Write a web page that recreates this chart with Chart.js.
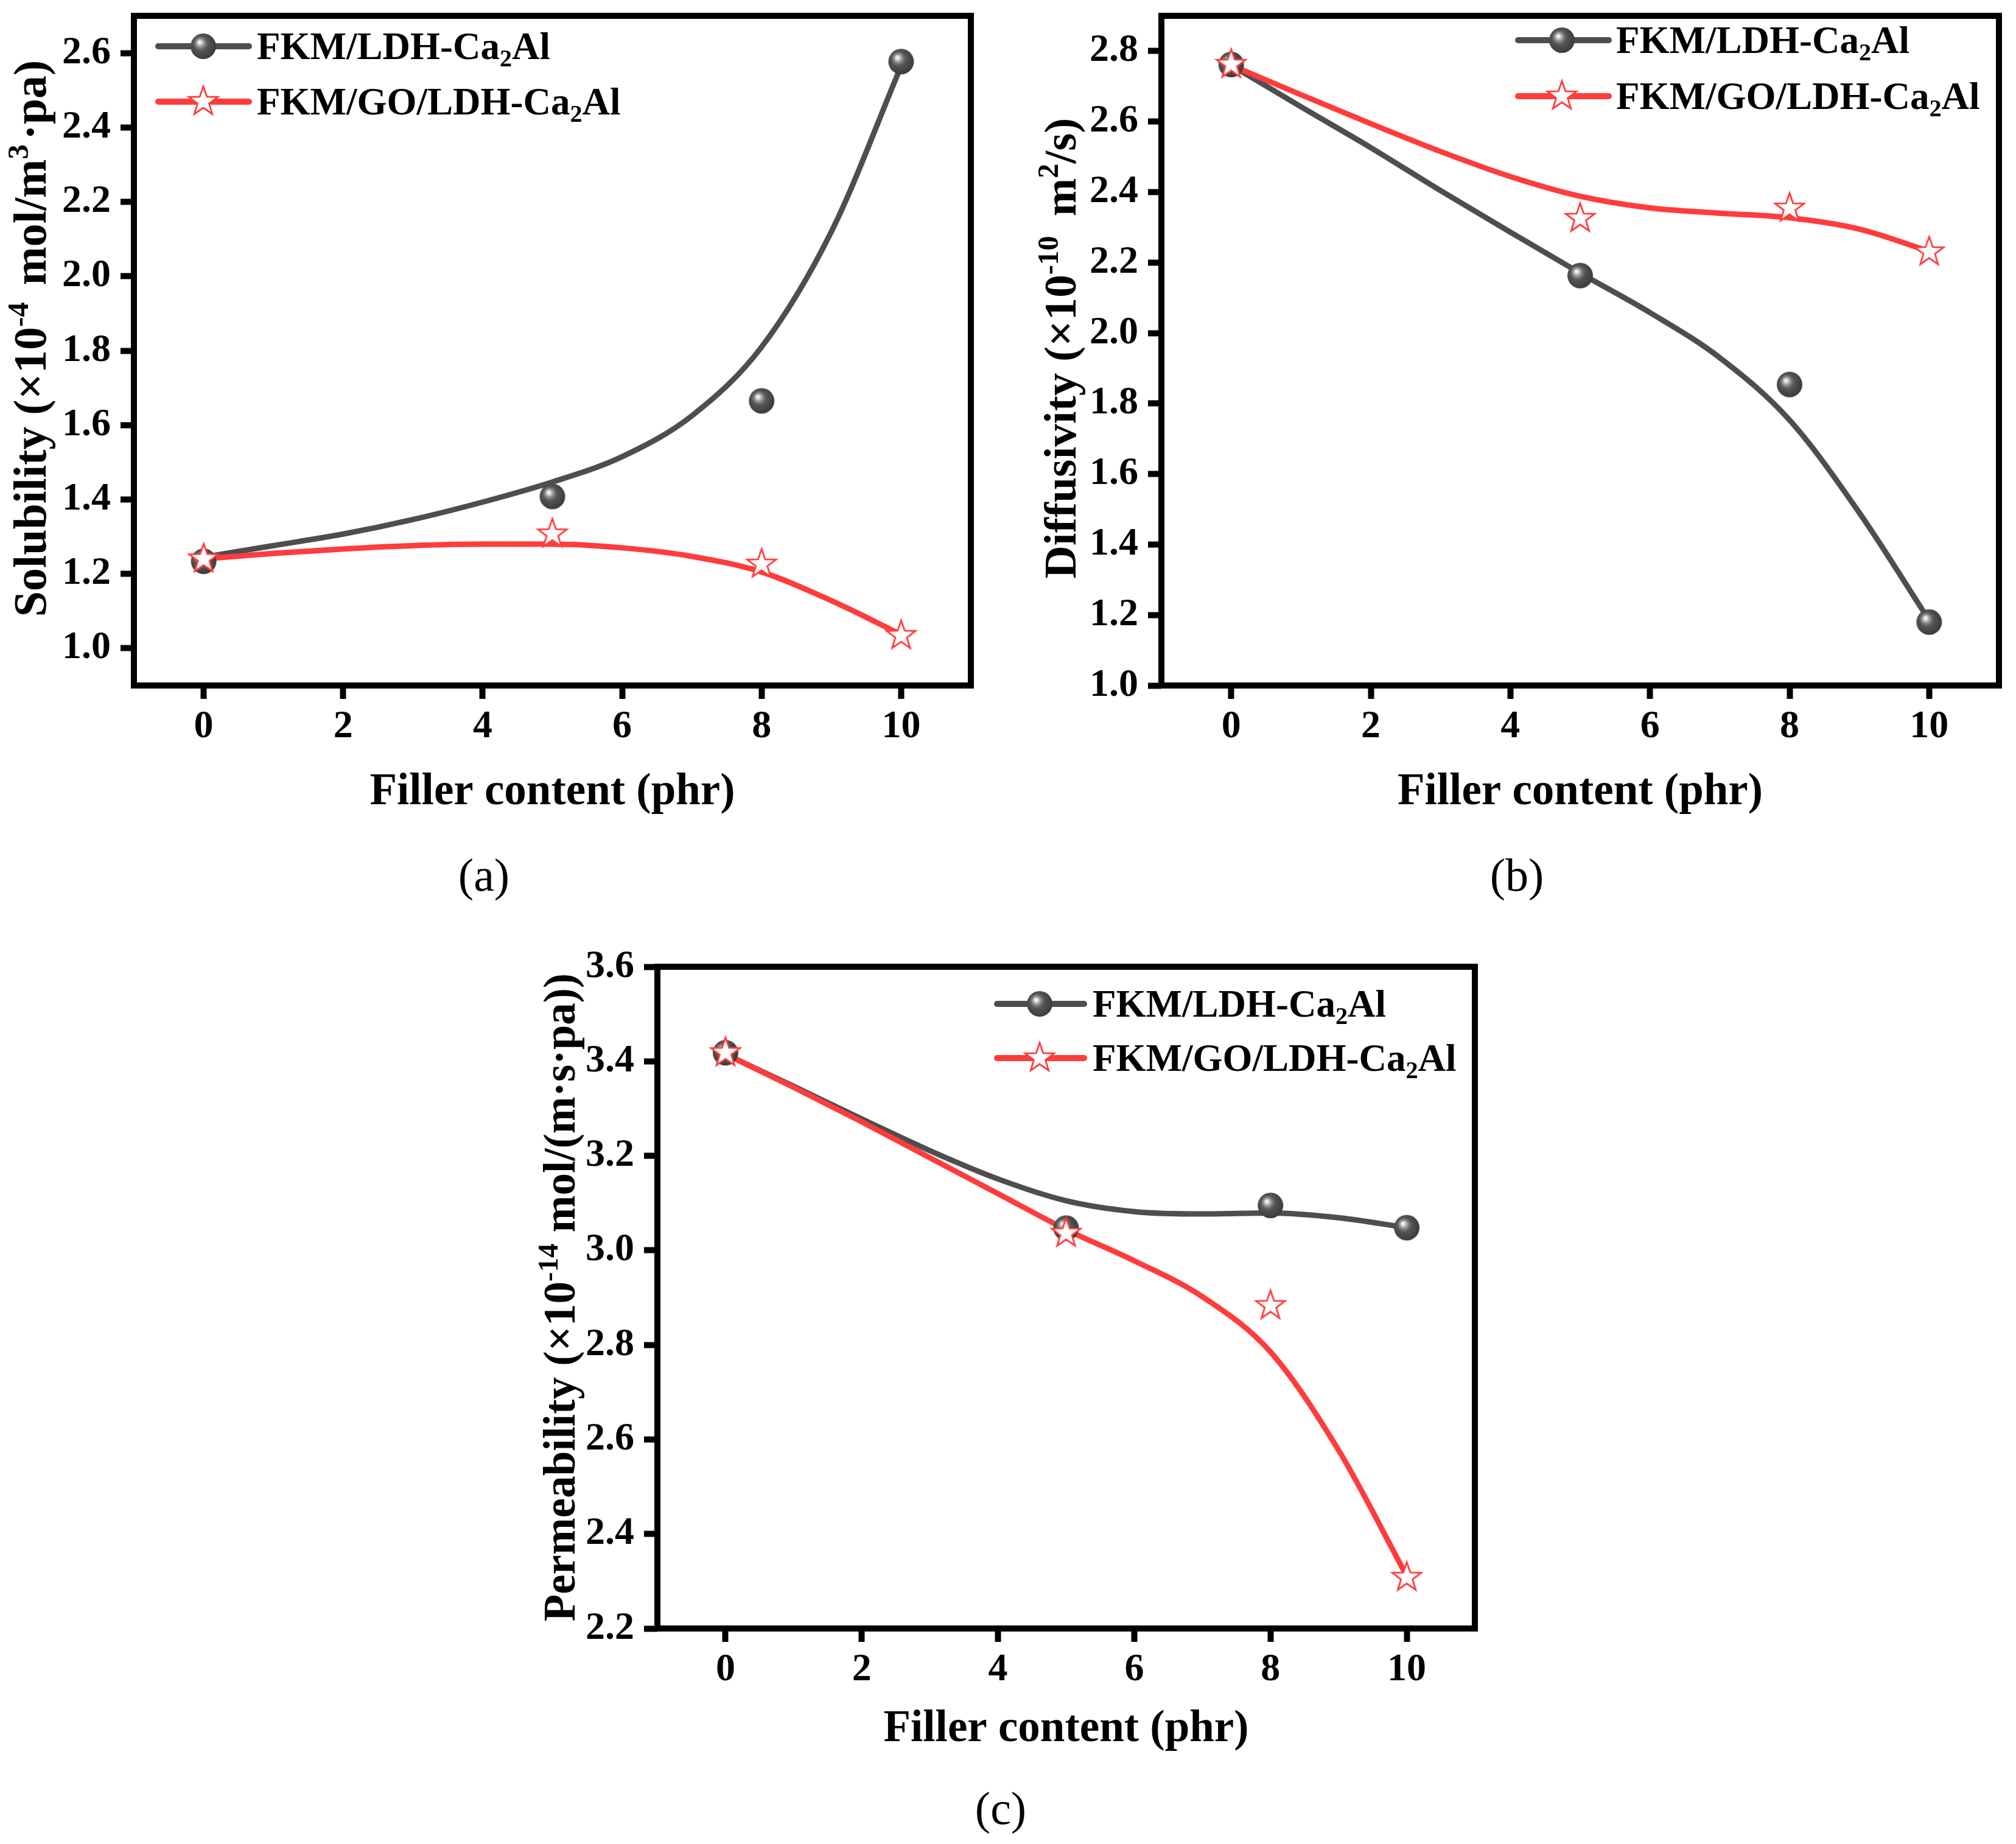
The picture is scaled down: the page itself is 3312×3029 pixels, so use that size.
<!DOCTYPE html>
<html>
<head>
<meta charset="utf-8">
<script src="https://cdn.jsdelivr.net/npm/chart.js@4.4.0/dist/chart.umd.min.js"></script>
<style>
  html, body { margin: 0; padding: 0; background: #fff; }
  body { width: 3312px; height: 3029px; position: relative; overflow: hidden; }
  canvas { position: absolute; }
  .cap { position: absolute; font-family: "Liberation Serif", serif; font-size: 76px; transform: translate(-50%, -50%); color: #000; }
</style>
</head>
<body>
<canvas id="chartA" width="1656" height="1380" style="left:0px;top:0px"></canvas>
<canvas id="chartB" width="1656" height="1380" style="left:1656px;top:0px"></canvas>
<canvas id="chartC" width="1700" height="1380" style="left:800px;top:1500px"></canvas>
<div class="cap" style="left:795px;top:1437px">(a)</div>
<div class="cap" style="left:2492px;top:1437px">(b)</div>
<div class="cap" style="left:1644px;top:2970px">(c)</div>
<script>
// measured points (filler content in phr)
var fillerContent = [0, 5, 8, 10]
var fitContent = [0, 1, 2, 3, 4, 5, 6, 7, 8, 9, 10]
var xTicks = [0, 2, 4, 6, 8, 10]

// (a) solubility, x10^-4 mol/m3.pa
var solubilityLDH = [1.234, 1.408, 1.665, 2.577]
var solubilityGO = [1.24, 1.307, 1.226, 1.034]
var solubilityFitLDH = [1.245, 1.276, 1.307, 1.346, 1.393, 1.447, 1.515, 1.625, 1.81, 2.12, 2.565]
var solubilityFitGO = [1.24, 1.255, 1.267, 1.276, 1.28, 1.28, 1.27, 1.247, 1.205, 1.128, 1.037]
var solubilityTicks = [1.0, 1.2, 1.4, 1.6, 1.8, 2.0, 2.2, 2.4, 2.6]

// (b) diffusivity, x10^-10 m2/s
var diffusivityLDH = [2.762, 2.163, 1.854, 1.18]
var diffusivityGO = [2.762, 2.325, 2.354, 2.23]
var diffusivityFitLDH = [2.76, 2.642, 2.526, 2.404, 2.286, 2.17, 2.058, 1.93, 1.753, 1.49, 1.185]
var diffusivityFitGO = [2.76, 2.676, 2.594, 2.515, 2.444, 2.388, 2.355, 2.34, 2.327, 2.295, 2.232]
var diffusivityTicks = [1.0, 1.2, 1.4, 1.6, 1.8, 2.0, 2.2, 2.4, 2.6, 2.8]

// (c) permeability, x10^-14 mol/(m.s.pa)
var permeabilityLDH = [3.418, 3.047, 3.095, 3.048]
var permeabilityGO = [3.418, 3.036, 2.883, 2.308]
var permeabilityFitLDH = [3.415, 3.347, 3.278, 3.211, 3.151, 3.105, 3.082, 3.077, 3.079, 3.069, 3.048]
var permeabilityFitGO = [3.415, 3.345, 3.272, 3.196, 3.12, 3.044, 2.978, 2.902, 2.785, 2.577, 2.311]
var permeabilityTicks = [2.2, 2.4, 2.6, 2.8, 3.0, 3.2, 3.4, 3.6]

var FONT = '"Liberation Serif", "Times New Roman", serif'
var GRAY = 'rgb(78,78,78)'
var RED = 'rgb(255,60,60)'
var TITLE_SIZE = 73
var LEGEND_SIZE = 63

function pairs(xs, ys) {
  return xs.map(function (x, i) { return { x: x, y: ys[i] } })
}

function sphereImage(r) {
  var c = document.createElement('canvas')
  var s = 2 * r + 4
  c.width = c.height = s
  var g = c.getContext('2d'), cx = s / 2, cy = s / 2
  var grad = g.createRadialGradient(cx - r * 0.3, cy - r * 0.33, 0, cx - r * 0.12, cy - r * 0.12, r * 1.05)
  grad.addColorStop(0, '#ffffff')
  grad.addColorStop(0.08, '#f2f2f2')
  grad.addColorStop(0.2, '#bdbdbd')
  grad.addColorStop(0.36, '#808080')
  grad.addColorStop(0.55, '#545454')
  grad.addColorStop(1, '#3e3e3e')
  g.fillStyle = grad
  g.beginPath()
  g.arc(cx, cy, r, 0, Math.PI * 2)
  g.fill()
  return c
}

function starImage(R) {
  var c = document.createElement('canvas')
  var s = Math.ceil(2 * R + 8)
  c.width = c.height = s
  var g = c.getContext('2d'), cx = s / 2, cy = s / 2
  g.beginPath()
  for (var k = 0; k < 10; k++) {
    var rr = k % 2 ? R * 0.4 : R
    var a = -Math.PI / 2 + k * Math.PI / 5
    var px = cx + rr * Math.cos(a), py = cy + rr * Math.sin(a)
    if (k) g.lineTo(px, py); else g.moveTo(px, py)
  }
  g.closePath()
  g.fillStyle = '#fff'
  g.fill()
  g.lineWidth = 2.8
  g.strokeStyle = RED
  g.stroke()
  return c
}

var sphereMark = sphereImage(21)
var starMark = starImage(25)

// text with sub/superscripts, parts = [[text, 'sup'|'sub'|undefined, extra gap in em], ...]
function drawRich(ctx, parts, x, y, size, align) {
  function fontOf(p) { return 'bold ' + (p[1] ? size * 0.64 : size) + 'px ' + FONT }
  function adv(p) { ctx.font = fontOf(p); return ctx.measureText(p[0]).width + (p[2] || 0) * size }
  var w = 0
  parts.forEach(function (p) { w += adv(p) })
  var cx = align === 'center' ? x - w / 2 : x
  ctx.textAlign = 'left'
  ctx.textBaseline = 'alphabetic'
  parts.forEach(function (p) {
    ctx.font = fontOf(p)
    var dy = p[1] === 'sup' ? -size * 0.38 : (p[1] === 'sub' ? size * 0.2 : 0)
    ctx.fillText(p[0], cx, y + dy)
    cx += adv(p)
  })
}

var legendRows = [
  { color: GRAY, mark: sphereMark, text: [['FKM/LDH-Ca'], ['2', 'sub'], ['Al']] },
  { color: RED, mark: starMark, text: [['FKM/GO/LDH-Ca'], ['2', 'sub'], ['Al']] }
]

var panelDecor = {
  id: 'panelDecor',
  afterDraw: function (chart, args, o) {
    var ctx = chart.ctx, a = chart.chartArea
    ctx.save()
    // frame
    ctx.strokeStyle = '#000'
    ctx.lineWidth = 10
    ctx.strokeRect(a.left, a.top, a.right - a.left, a.bottom - a.top)
    ctx.fillStyle = '#000'
    // x title
    drawRich(ctx, [['Filler content (phr)']], (a.left + a.right) / 2, o.xTitleY + TITLE_SIZE * 0.331, TITLE_SIZE, 'center')
    // y title
    ctx.save()
    ctx.translate(o.yTitleX, o.yTitleY)
    ctx.rotate(-Math.PI / 2)
    drawRich(ctx, o.yTitle, 0, o.yTitleSize * 0.331, o.yTitleSize, 'center')
    ctx.restore()
    // legend
    legendRows.forEach(function (row, i) {
      var y = o.legend.y[i]
      ctx.strokeStyle = row.color
      ctx.lineWidth = 10
      ctx.lineCap = 'round'
      ctx.beginPath()
      ctx.moveTo(o.legend.x1, y)
      ctx.lineTo(o.legend.x2, y)
      ctx.stroke()
      ctx.drawImage(row.mark, o.legend.mx - row.mark.width / 2, y - row.mark.height / 2)
      ctx.fillStyle = '#000'
      drawRich(ctx, row.text, o.legend.tx, y + LEGEND_SIZE * 0.331, LEGEND_SIZE, 'left')
    })
    ctx.restore()
  }
}

function panel(id, p) {
  var canvas = document.getElementById(id)
  var W = canvas.width, H = canvas.height, A = p.area
  var tickFont = { family: FONT, size: 64, weight: 'bold' }
  var tickGrid = { drawOnChartArea: false, drawTicks: true, tickLength: 22, tickWidth: 10, tickColor: '#000', color: '#000' }
  return new Chart(canvas, {
    type: 'line',
    data: {
      datasets: [
        { label: 'FKM/GO/LDH-Ca2Al', data: pairs(fillerContent, p.go), showLine: false, pointStyle: starMark, pointRadius: 25 },
        { label: 'FKM/LDH-Ca2Al', data: pairs(fillerContent, p.ldh), showLine: false, pointStyle: sphereMark, pointRadius: 21 },
        { label: 'fit GO', data: pairs(fitContent, p.fitGO), borderColor: RED, borderWidth: 9, pointRadius: 0, cubicInterpolationMode: 'monotone', fill: false },
        { label: 'fit LDH', data: pairs(fitContent, p.fitLDH), borderColor: GRAY, borderWidth: 9, pointRadius: 0, cubicInterpolationMode: 'monotone', fill: false }
      ]
    },
    options: {
      responsive: false,
      animation: false,
      devicePixelRatio: 1,
      events: [],
      layout: { padding: { left: 0, top: A.top, right: W - A.right, bottom: 0 } },
      plugins: {
        legend: { display: false },
        tooltip: { enabled: false },
        panelDecor: { xTitleY: p.xTitleY, yTitleX: p.yTitleX, yTitleY: p.yTitleY, yTitleSize: p.yTitleSize, yTitle: p.yTitle, legend: p.legend }
      },
      scales: {
        x: {
          type: 'linear', min: -1, max: 11,
          grid: tickGrid,
          border: { display: false },
          ticks: { font: tickFont, color: '#000', padding: 8 },
          afterBuildTicks: function (s) { s.ticks = xTicks.map(function (v) { return { value: v } }) },
          afterFit: function (s) { s.height = H - A.bottom; s.paddingLeft = 0; s.paddingRight = 0 }
        },
        y: {
          type: 'linear', min: p.yMin, max: p.yMax,
          grid: tickGrid,
          border: { display: false },
          ticks: { font: tickFont, color: '#000', padding: 16, callback: function (v) { return v.toFixed(1) } },
          afterBuildTicks: function (s) { s.ticks = p.yTicks.map(function (v) { return { value: v } }) },
          afterFit: function (s) { s.width = A.left; s.paddingTop = 0; s.paddingBottom = 0 }
        }
      }
    },
    plugins: [panelDecor]
  })
}

panel('chartA', {
  area: { left: 220, top: 19, right: 1595, bottom: 1126 },
  yMin: 0.9, yMax: 2.7, yTicks: solubilityTicks,
  ldh: solubilityLDH, go: solubilityGO, fitLDH: solubilityFitLDH, fitGO: solubilityFitGO,
  xTitleY: 1297, yTitleX: 50, yTitleY: 556, yTitleSize: 76,
  yTitle: [['Solubility (\u00d710'], ['-4', 'sup', 0.12], [' mol/m'], ['3', 'sup', 0.1], ['\u00b7pa)']],
  legend: { x1: 260, x2: 409, mx: 334, tx: 422, y: [76, 167] }
})

panel('chartB', {
  area: { left: 252, top: 19, right: 1628, bottom: 1126 },
  yMin: 1.0, yMax: 2.9, yTicks: diffusivityTicks,
  ldh: diffusivityLDH, go: diffusivityGO, fitLDH: diffusivityFitLDH, fitGO: diffusivityFitGO,
  xTitleY: 1297, yTitleX: 86, yTitleY: 572, yTitleSize: 75,
  yTitle: [['Diffusivity (\u00d710'], ['-10', 'sup', 0.18], [' m'], ['2', 'sup'], ['/s)']],
  legend: { x1: 838, x2: 987, mx: 910, tx: 999, y: [66, 158] }
})

panel('chartC', {
  area: { left: 280, top: 88, right: 1623, bottom: 1175 },
  yMin: 2.2, yMax: 3.6, yTicks: permeabilityTicks,
  ldh: permeabilityLDH, go: permeabilityGO, fitLDH: permeabilityFitLDH, fitGO: permeabilityFitGO,
  xTitleY: 1336, yTitleX: 120, yTitleY: 631, yTitleSize: 73,
  yTitle: [['Permeability (\u00d710'], ['-14', 'sup'], [' mol/(m\u00b7s\u00b7pa))']],
  legend: { x1: 838, x2: 981, mx: 908, tx: 995, y: [149, 238] }
})
</script>
</body>
</html>
